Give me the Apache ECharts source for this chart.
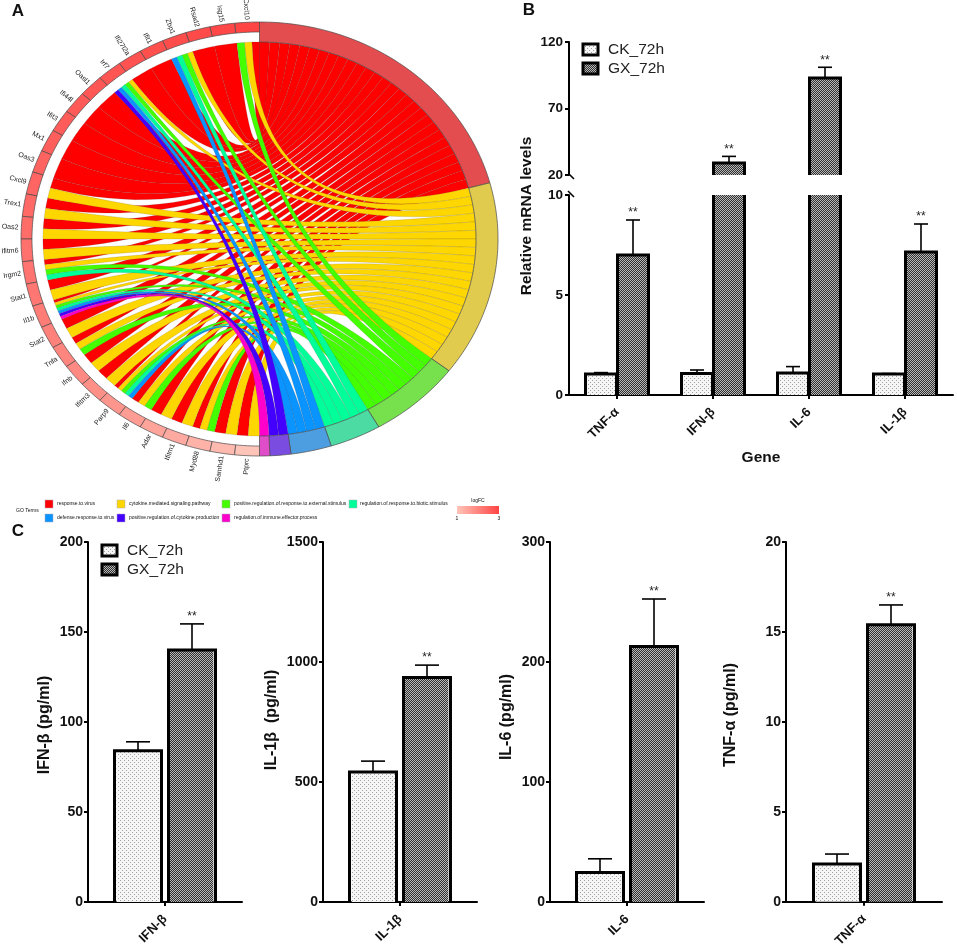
<!DOCTYPE html>
<html><head><meta charset="utf-8">
<style>html,body{margin:0;padding:0;background:#fff}#c{width:957px;height:950px}</style>
<script src="https://cdn.jsdelivr.net/npm/echarts@6/dist/echarts.min.js"></script>
</head><body><div id="c"></div>
<script>
// ---------- Panel A data ----------
const termNames = ['response.to.virus','cytokine.mediated.signaling.pathway','positive.regulation.of.response.to.external.stimulus','regulation.of.response.to.biotic.stimulus','defense.response.to.virus','positive.regulation.of.cytokine.production','regulation.of.immune.effector.process'];
const termColors = ['#ff0000','#ffd700','#44ff00','#00ff99','#0a94ff','#4400ff','#ff00cc'];
const termRing = ['#e34d4f','#e0cb4e','#77e04d','#4ddba4','#4d9ee0','#7a4de0','#e04dc8'];
const termSpanDeg = [75,52.4,22.6,12.5,9.9,5.1,2.5];
const genes = ['Cxcl10','Isg15','Rsad2','Zbp1','Ifit1','Ifi27l2a','Irf7','Oasl1','Ifi44l','Ifit3','Mx1','Oas3','Cxcl9','Trex1','Oas2','Ifitm6','Irgm2','Stat1','Il1b','Stat2','Tnfa','Ifnb','Ifitm3','Parp9','Il6','Adar','Ifitm1','Myd88','Samhd1','Ptprc'];
const geneLogFC = [3,2.95,2.9,2.86,2.82,2.78,2.74,2.7,2.66,2.62,2.58,2.52,2.48,2.42,2.36,2.3,2.25,2.2,2.12,2.05,1.98,1.9,1.82,1.72,1.62,1.5,1.4,1.28,1.15,1.0];
const geneTerms = [[0,1,2],[0],[0],[1,2,3,4],[0],[0],[1,2,3,4,5],[0],[0],[0],[0],[0],[0,1],[0,1],[0,1],[0,1],[0,1,2,3],[0,1],[0,1,2,3,4,5,6],[0,1],[0,1,2],[0,1],[0,1],[0,1,2,3,4],[0,1,2],[0,1],[0,1],[0,1,2],[0,1],[0,1]];
// ---------- Panel B data ----------
const bCats = ['TNF-α','IFN-β','IL-6','IL-1β'];
const bCK = [1.05,1.08,1.1,1.05];
const bCKerr = [1.12,1.25,1.42,1.07];
const bGX = [7.0,29,93,7.15];
const bGXerr = [8.75,34,101,8.55];
const bTopTicks = [20,70,120];
// ---------- Panel C data ----------
const cTitles = ['IFN-β (pg/ml)','IL-1β  (pg/ml)','IL-6 (pg/ml)','TNF-α (pg/ml)'];
const cCats = ['IFN-β','IL-1β','IL-6','TNF-α'];
const cCK = [84,542,24.5,2.1];
const cCKerr = [89,587,36,2.65];
const cGX = [140,935,213,15.4];
const cGXerr = [154.5,987,252.5,16.5];
const cMax = [200,1500,300,20];
const cStep = [50,500,100,5];
const seriesNames = ['CK_72h','GX_72h'];

// ---------- helpers ----------
const FONT = '"Liberation Sans",Arial,sans-serif';
const D2R = Math.PI/180;
const pt = (r,a)=>[r*Math.sin(a*D2R), r*Math.cos(a*D2R)];
const R_RIB=.908, R_GENE=.954;
function hex(c){return [1,3,5].map(i=>parseInt(c.substr(i,2),16));}
function mix(a,b,t){const A=hex(a),B=hex(b);return 'rgb('+A.map((v,i)=>Math.round(v+(B[i]-v)*t)).join(',')+')';}
const LOW='#ffc4b8', HIGH='#ff4444';
const fcColor = v=>mix(LOW,HIGH,(v-1)/2);

const termStart=[]; let acc=0; termSpanDeg.forEach(s=>{termStart.push(acc);acc+=s;});
const termCount=termNames.map((_,t)=>geneTerms.filter(g=>g.includes(t)).length);
const seen=termNames.map(()=>0);
const links=[];
geneTerms.forEach((list,g)=>{
  list.forEach((t,k)=>{
    links.push([g,t,k,list.length,seen[t]++]);
  });
});
links.sort((a,b)=>a[1]-b[1]);
const GENE_DEG=180/genes.length;

function arcPts(r,a0,a1){const n=Math.max(2,Math.ceil(Math.abs(a1-a0)/1)),o=[];for(let i=0;i<=n;i++)o.push(pt(r,a0+(a1-a0)*i/n));return o;}
function quadPts(A,B){const o=[];for(let i=0;i<=28;i++){const t=i/28,u=(1-t)*(1-t),w=t*t;o.push([u*A[0]+w*B[0],u*A[1]+w*B[1]]);}return o;}
function sectorPts(r0,r1,a0,a1){return arcPts(r1,a0,a1).concat(arcPts(r0,a1,a0));}

function makePattern(size,bg,dots){
  const c=document.createElement('canvas');c.width=size;c.height=size;
  const x=c.getContext('2d');x.fillStyle=bg;x.fillRect(0,0,size,size);
  dots.forEach(d=>{x.fillStyle=d[2];x.fillRect(d[0],d[1],1,1);});
  return {image:c,repeat:'repeat'};
}
const patCK=makePattern(4,'#f6f6f6',[[0,0,'#a0a0a0'],[2,2,'#a0a0a0']]);
const patGX=makePattern(2,'#303030',[[0,0,'#b8b8b8'],[1,1,'#b8b8b8']]);
const pats=[patCK,patGX];

const grid=[],xAxis=[],yAxis=[],series=[],graphic=[],legend=[];

// ---------- Panel A ----------
grid.push({left:21,top:22,width:477,height:434});
xAxis.push({type:'value',gridIndex:0,min:-1,max:1,show:false});
yAxis.push({type:'value',gridIndex:0,min:-1,max:1,show:false});
series.push({type:'custom',coordinateSystem:'cartesian2d',xAxisIndex:0,yAxisIndex:0,silent:true,z:2,data:links,
  encode:{x:0,y:1},
  renderItem(p,api){
    const [g,t,k,n,s]=links[p.dataIndex];
    const gEnd=360-g*GENE_DEG, w=GENE_DEG/n, g1=gEnd-k*w, g0=g1-w;
    const u=termSpanDeg[t]/termCount[t], t0=termStart[t]+s*u, t1=t0+u;
    const P=[].concat(quadPts(pt(R_RIB,g1),pt(R_RIB,t0)),arcPts(R_RIB,t0,t1),quadPts(pt(R_RIB,t1),pt(R_RIB,g0)),arcPts(R_RIB,g0,g1));
    return {type:'polygon',shape:{points:P.map(q=>api.coord(q))},style:{fill:termColors[t],stroke:'rgba(70,70,70,.32)',lineWidth:.5}};
  }});
series.push({type:'custom',coordinateSystem:'cartesian2d',xAxisIndex:0,yAxisIndex:0,silent:true,z:3,data:termNames.map((_,i)=>[i,0]),
  encode:{x:0,y:1},
  renderItem(p,api){
    const i=p.dataIndex,P=sectorPts(R_RIB,1,termStart[i],termStart[i]+termSpanDeg[i]);
    return {type:'polygon',shape:{points:P.map(q=>api.coord(q))},style:{fill:termRing[i],stroke:'#4a4a4a',lineWidth:.7}};
  }});
series.push({type:'custom',coordinateSystem:'cartesian2d',xAxisIndex:0,yAxisIndex:0,silent:true,z:3,data:genes.map((_,i)=>[i,0]),
  encode:{x:0,y:1},
  renderItem(p,api){
    const i=p.dataIndex,a1=360-i*GENE_DEG,a0=a1-GENE_DEG,P=sectorPts(R_GENE,1,a0,a1);
    const mid=(a0+a1)/2, L=api.coord(pt(1.012,mid));
    const sn=Math.sin(mid*D2R),cs=Math.cos(mid*D2R);
    const rot=-Math.atan2(cs,-sn);
    return {type:'group',children:[
      {type:'polygon',shape:{points:P.map(q=>api.coord(q))},style:{fill:fcColor(geneLogFC[i]),stroke:'#4a4a4a',lineWidth:.7}},
      {type:'text',x:L[0],y:L[1],rotation:rot,style:{text:genes[i],font:'7px '+FONT,fill:'#222',textAlign:'right',align:'right',textVerticalAlign:'middle',verticalAlign:'middle'}}
    ]};
  }});

// ---------- bar helper ----------
function barSeries(name,i,g,data,bw,gapPct){
  return {type:'bar',name,xAxisIndex:g,yAxisIndex:g,data,barWidth:bw,barGap:gapPct,silent:true,clip:true,z:2,
    itemStyle:{color:pats[i],borderWidth:0}};
}
function outlineSeries(g,rows,side,w,gap,capW,starOn){
  return {type:'custom',coordinateSystem:'cartesian2d',xAxisIndex:g,yAxisIndex:g,silent:true,z:4,data:rows,encode:{x:0,y:1},
    renderItem(p,api){
      const c=api.value(0),v=api.value(1),e=api.value(2);
      const rect=p.coordSys, cx=api.coord([c,v])[0], vy=api.coord([c,v])[1], ey=api.coord([c,e])[1];
      const x0=side<0?cx-gap-w:cx+gap, x1=x0+w, bot=rect.y+rect.height, mid=(x0+x1)/2;
      const ls={stroke:'#000',lineWidth:3,fill:null,lineJoin:'miter',lineCap:'butt'};
      const ch=[];
      const wl={stroke:'#000',lineWidth:1.6,fill:null};
      if(vy>=rect.y){
        ch.push({type:'line',shape:{x1:mid,y1:vy,x2:mid,y2:ey},style:wl});
        ch.push({type:'line',shape:{x1:mid-capW/2,y1:ey,x2:mid+capW/2,y2:ey},style:wl});
        if(starOn) ch.push({type:'text',x:mid,y:ey-7,style:{text:'**',font:'12px '+FONT,fill:'#222',textAlign:'center',align:'center',textVerticalAlign:'middle',verticalAlign:'middle'}});
        ch.push({type:'polyline',shape:{points:[[x0,bot],[x0,vy],[x1,vy],[x1,bot]]},style:ls});
      } else {
        ch.push({type:'line',shape:{x1:x0,y1:bot,x2:x0,y2:rect.y},style:ls});
        ch.push({type:'line',shape:{x1:x1,y1:bot,x2:x1,y2:rect.y},style:ls});
      }
      return {type:'group',children:ch};
    }};
}
const axisTxt={color:'#111',fontFamily:FONT,fontWeight:'bold',fontSize:14,formatter:v=>String(v)};
const axLine={show:true,onZero:false,lineStyle:{color:'#000',width:2}};
const axTick={show:true,length:4,lineStyle:{color:'#000',width:2}};
function legendBox(left,top){
  return {show:true,orient:'vertical',left,top,itemWidth:15,itemHeight:11,itemGap:3,selectedMode:false,icon:'rect',padding:0,
    textStyle:{fontFamily:FONT,fontSize:15.5,color:'#222',padding:[0,0,0,5]},
    data:seriesNames.map((n,i)=>({name:n,icon:'rect',itemStyle:{color:pats[i],borderColor:'#000',borderWidth:3}}))};
}
const rowsOf=(vals,errs)=>vals.map((v,i)=>[i,v,errs[i]]);

// ---------- Panel B: broken axis as two grids ----------
let g=grid.length;
grid.push({left:569,top:42,width:384,height:133});
xAxis.push({type:'category',gridIndex:g,data:bCats,show:false});
yAxis.push({type:'value',gridIndex:g,min:20,max:120,axisLine:axLine,axisTick:{...axTick,customValues:bTopTicks},splitLine:{show:false},
  axisLabel:{...axisTxt,fontSize:13.5,margin:6,customValues:bTopTicks}});
series.push(barSeries(seriesNames[0],0,g,bCK.map(()=>'-'),31,'0%'));
series.push(barSeries(seriesNames[1],1,g,bGX.map(v=>v>20?v:'-'),31,'0%'));
series.push(outlineSeries(g,rowsOf(bGX,bGXerr).filter(r=>r[1]>20),1,31,.5,14,true));
g=grid.length;
grid.push({left:569,top:195,width:384,height:200});
xAxis.push({type:'category',gridIndex:g,data:bCats,axisLine:axLine,axisTick:{...axTick,alignWithLabel:true},
  axisLabel:{...axisTxt,fontSize:13,rotate:45,margin:15,interval:0}});
yAxis.push({type:'value',gridIndex:g,min:0,max:10,interval:5,axisLine:axLine,axisTick:axTick,splitLine:{show:false},axisLabel:{...axisTxt,fontSize:13.5,margin:6}});
series.push(barSeries(seriesNames[0],0,g,bCK,31,'0%'));
series.push(barSeries(seriesNames[1],1,g,bGX,31,'0%'));
series.push(outlineSeries(g,rowsOf(bCK,bCKerr),-1,31,.5,14,false));
series.push(outlineSeries(g,rowsOf(bGX,bGXerr).filter(r=>r[1]<=10),1,31,.5,14,true));
series.push(outlineSeries(g,rowsOf(bGX,bGXerr).filter(r=>r[1]>10),1,31,.5,14,false));
legend.push(legendBox(581.5,41.5));

// ---------- Panel C ----------
const cAxisX=[88,323,550,786], cWidth=[154,154,154,156];
cTitles.forEach((_,i)=>{
  const gi=grid.length;
  grid.push({left:cAxisX[i],top:542,width:cWidth[i],height:360});
  xAxis.push({type:'category',gridIndex:gi,data:[cCats[i]],axisLine:axLine,axisTick:{...axTick,alignWithLabel:true},
    axisLabel:{...axisTxt,fontSize:13,rotate:45,margin:15}});
  yAxis.push({type:'value',gridIndex:gi,min:0,max:cMax[i],interval:cStep[i],axisLine:axLine,axisTick:axTick,splitLine:{show:false},axisLabel:{...axisTxt,margin:5}});
  series.push(barSeries(seriesNames[0],0,gi,[cCK[i]],45,'15%'));
  series.push(barSeries(seriesNames[1],1,gi,[cGX[i]],45,'15%'));
  series.push(outlineSeries(gi,[[0,cCK[i],cCKerr[i]]],-1,47,3.5,24,false));
  series.push(outlineSeries(gi,[[0,cGX[i],cGXerr[i]]],1,47,3.5,24,true));
});
legend.push(legendBox(100.5,542.5));

// ---------- text, legend of A, decorations ----------
function txt(text,x,y,font,extra){
  return Object.assign({type:'text',x,y,z:20,silent:true,style:{text,font:font+' '+FONT,fill:'#111',textAlign:'left',align:'left',textVerticalAlign:'middle',verticalAlign:'middle'}},extra||{});
}
function ctxt(text,x,y,font,rot){
  const t=txt(text,x,y,font,{rotation:rot||0});t.style.textAlign='center';t.style.align='center';return t;
}
graphic.push(ctxt('A',18,11,'bold 17px'),ctxt('B',529,10,'bold 17px'),ctxt('C',18,531,'bold 17px'));
graphic.push(ctxt('Relative mRNA levels',527,216,'bold 15.5px',Math.PI/2),ctxt('Gene',761,458,'bold 15.5px'));
[[45,725],[272,720],[507,717],[731,715]].forEach((q,i)=>graphic.push(ctxt(cTitles[i],q[0],q[1],'bold 16px',Math.PI/2)));
[[[569,174],[574,179]],[[568,191],[574,197]]].forEach(s=>graphic.push({type:'line',z:20,silent:true,shape:{x1:s[0][0],y1:s[0][1],x2:s[1][0],y2:s[1][1]},style:{stroke:'#000',lineWidth:1.6}}));

const swX=[45,117,222,349], txX=[57,129,234,360], rowY=[504,518];
const slots=[[0,0],[1,0],[2,0],[3,0],[0,1],[1,1],[2,1]];
graphic.push(txt('GO Terms',16,511,'5px'));
termNames.forEach((n,i)=>{
  const [c,r]=slots[i];
  graphic.push({type:'rect',z:20,silent:true,shape:{x:swX[c],y:rowY[r]-4,width:8,height:8},style:{fill:termColors[i],stroke:'#aab',lineWidth:.5}});
  graphic.push(txt(n,txX[c],rowY[r],'5px'));
});
graphic.push({type:'rect',z:20,silent:true,shape:{x:457,y:506,width:42,height:8},style:{fill:new echarts.graphic.LinearGradient(0,0,1,0,[{offset:0,color:LOW},{offset:1,color:HIGH}])}});
graphic.push(ctxt('logFC',478,501,'5px'),ctxt('1',457,519,'5px'),ctxt('3',499,519,'5px'));

const chart=echarts.init(document.getElementById('c'),null,{renderer:'canvas'});
chart.setOption({animation:false,backgroundColor:'#fff',grid,xAxis,yAxis,series,legend,graphic:{elements:graphic},tooltip:{show:false}});
</script></body></html>
